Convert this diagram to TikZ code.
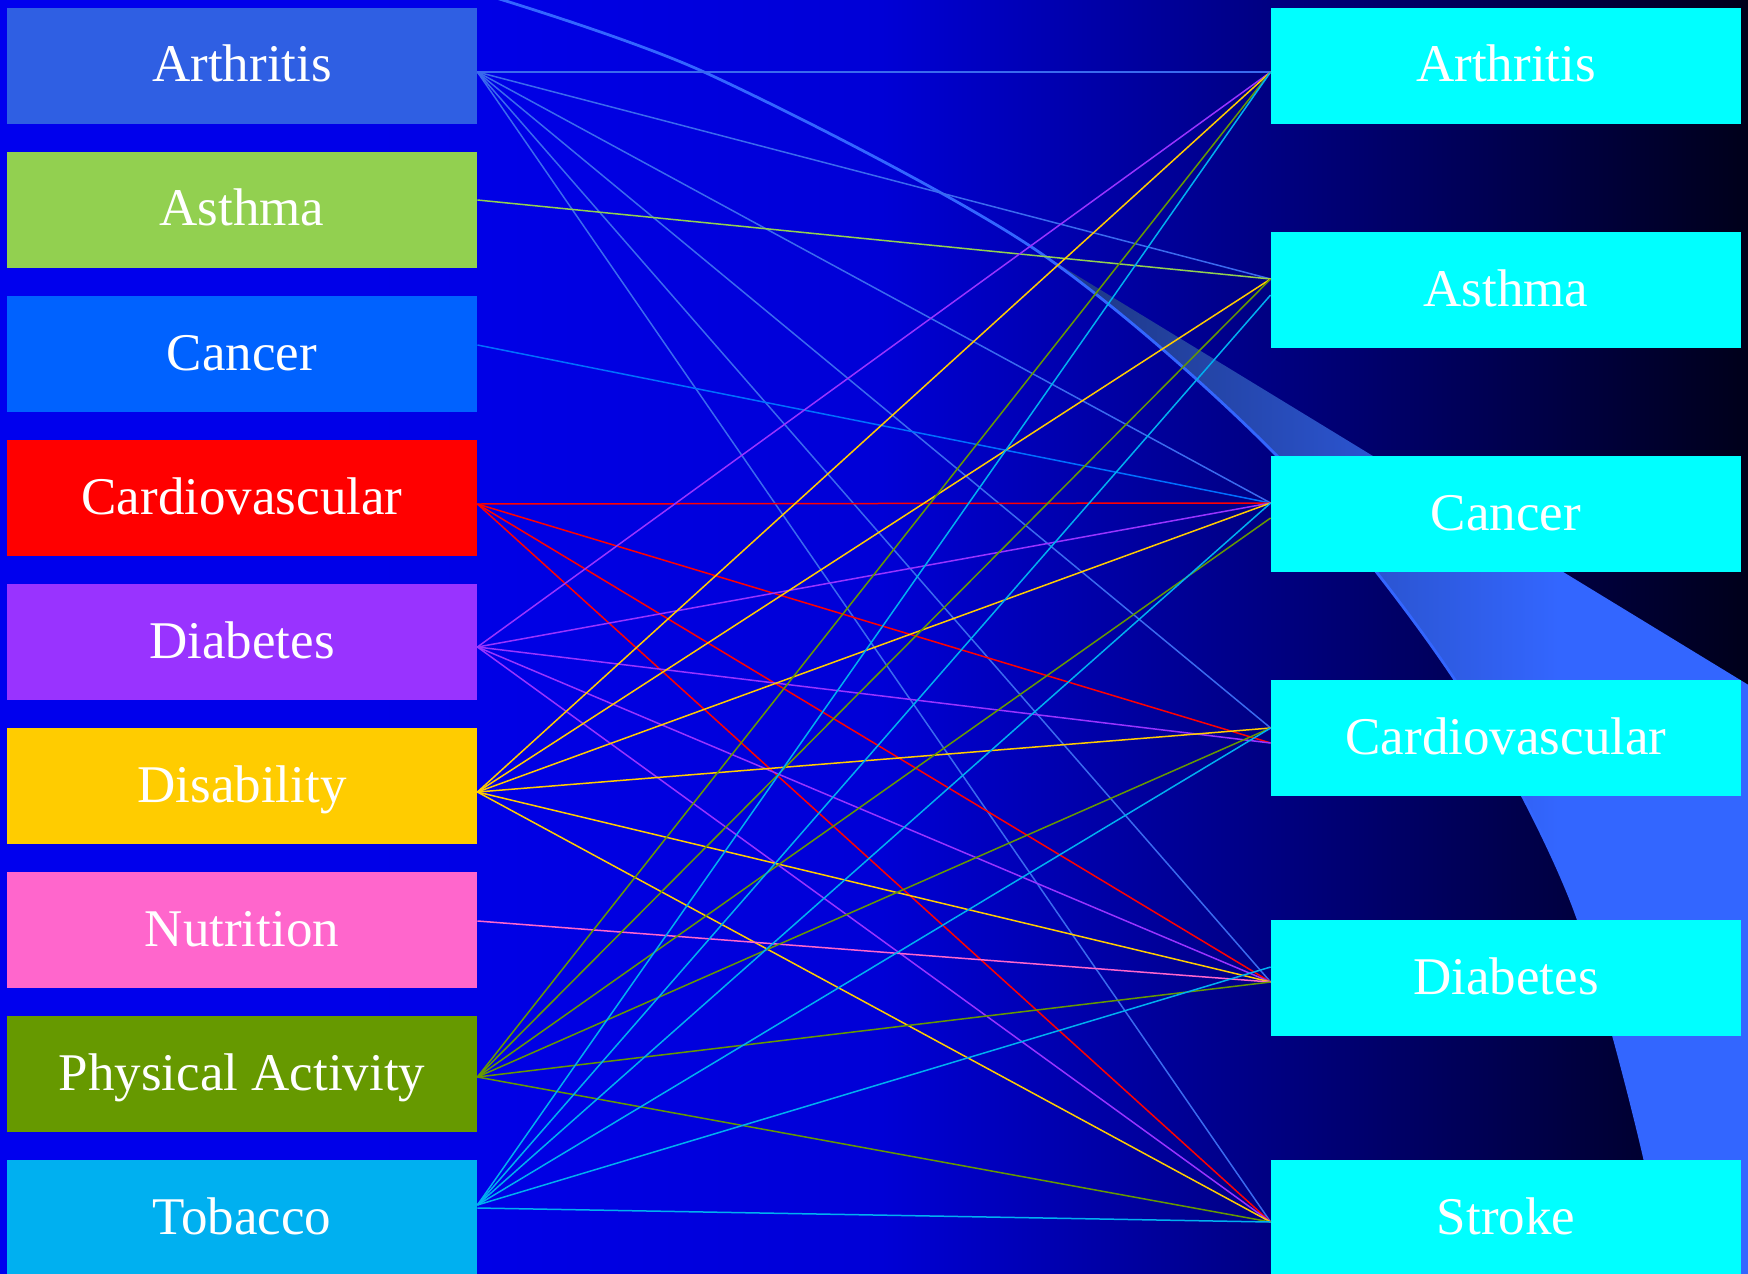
\documentclass[tikz,border=0pt]{standalone}
\usepackage{fontspec}
\setmainfont{Liberation Serif}
\usetikzlibrary{calc}
\definecolor{bg0}{RGB}{0,0,238}
\definecolor{bg1}{RGB}{0,0,230}
\definecolor{bg2}{RGB}{0,0,214}
\definecolor{bg3}{RGB}{0,0,26}
\definecolor{swA}{RGB}{31,58,140}
\definecolor{swB}{RGB}{51,102,255}
\definecolor{cArth}{HTML}{2F5FE3}
\definecolor{lArth}{HTML}{3A6AEE}
\definecolor{cAsth}{HTML}{92D050}
\definecolor{cCanc}{HTML}{0062FF}
\definecolor{lCanc}{HTML}{0070FF}
\definecolor{cCard}{HTML}{FF0000}
\definecolor{cDiab}{HTML}{9933FF}
\definecolor{cDisa}{HTML}{FFCC00}
\definecolor{cNutr}{HTML}{FF66CC}
\definecolor{cPhys}{HTML}{669900}
\definecolor{cToba}{HTML}{00B0F0}
\definecolor{cRight}{HTML}{00FFFF}
\pgfdeclarehorizontalshading{backdrop}{100bp}{color(0bp)=(bg0); color(25bp)=(bg0); color(38.7bp)=(bg1); color(50.2bp)=(bg2); color(75bp)=(bg3); color(100bp)=(bg3)}
\pgfdeclarehorizontalshading{swoosh}{100bp}{color(0bp)=(swA); color(49.4bp)=(swA); color(67.2bp)=(swB); color(100bp)=(swB)}
\begin{document}
\begin{tikzpicture}[x=0.5pt,y=-0.5pt,
  box/.style={minimum width=235pt, minimum height=58pt, inner sep=0pt, text=white,
              text height=18pt, text depth=2pt,
              font=\fontsize{26.5}{30}\selectfont},
  rbox/.style={box, fill=cRight},
  link/.style={line width=0.75pt},
  swline/.style={draw=swB, line width=1.4pt}]
\useasboundingbox (0,0) rectangle (1748,1273);
\clip (0,0) rectangle (1748,1273);
% background
\shade[shading=backdrop] (0,0) rectangle (1748,1273);
% swoosh band
\def\swcurve{(470,-10) (704,72) (1033,248) (1278,457) (1455,680) (1571,900) (1645,1160) (1660,1290)}
\begin{scope}
  \clip (1040,253) -- (1760,692) -- (1760,1290) -- (1040,1290) -- cycle;
  \shade[shading=swoosh] plot[smooth] coordinates {\swcurve} -- (1760,1290) -- (1760,-10) -- cycle;
\end{scope}
\draw[swline] plot[smooth] coordinates {\swcurve};
% left boxes
\node[box, fill=cArth] (LArth) at (242,66)   {Arthritis};
\node[box, fill=cAsth] (LAsth) at (242,210)  {Asthma};
\node[box, fill=cCanc] (LCanc) at (242,354)  {Cancer};
\node[box, fill=cCard] (LCard) at (242,498)  {Cardiovascular};
\node[box, fill=cDiab] (LDiab) at (242,642)  {Diabetes};
\node[box, fill=cDisa] (LDisa) at (242,786)  {Disability};
\node[box, fill=cNutr] (LNutr) at (242,930)  {Nutrition};
\node[box, fill=cPhys] (LPhys) at (242,1074) {Physical Activity};
\node[box, fill=cToba] (LToba) at (242,1218) {Tobacco};
% right boxes
\node[rbox] (RArth) at (1506,66)   {Arthritis};
\node[rbox] (RAsth) at (1506,290)  {Asthma};
\node[rbox] (RCanc) at (1506,514)  {Cancer};
\node[rbox] (RCard) at (1506,738)  {Cardiovascular};
\node[rbox] (RDiab) at (1506,978)  {Diabetes};
\node[rbox] (RStro) at (1506,1218) {Stroke};
% ports
\coordinate (pLArth) at ($(LArth.east)+(0,6)$);
\coordinate (pLAsth) at ($(LAsth.east)+(0,-10)$);
\coordinate (pLCanc) at ($(LCanc.east)+(0,-9)$);
\coordinate (pLCard) at ($(LCard.east)+(0,6)$);
\coordinate (pLDiab) at ($(LDiab.east)+(0,5)$);
\coordinate (pLDisa) at ($(LDisa.east)+(0,6)$);
\coordinate (pLNutr) at ($(LNutr.east)+(0,-9)$);
\coordinate (pLPhys) at ($(LPhys.east)+(0,3)$);
\coordinate (pLToba) at ($(LToba.east)+(0,-13)$);
\coordinate (pLToba2) at ($(LToba.east)+(0,-10)$);
\coordinate (pRArth) at ($(RArth.west)+(0,6)$);
\coordinate (pRAsth) at ($(RAsth.west)+(0,-11)$);
\coordinate (pRAsth2) at ($(RAsth.west)+(0,5)$);
\coordinate (pRCanc) at ($(RCanc.west)+(0,-11)$);
\coordinate (pRCanc2) at ($(RCanc.west)+(0,4)$);
\coordinate (pRCard) at ($(RCard.west)+(0,-10)$);
\coordinate (pRCard2) at ($(RCard.west)+(0,5)$);
\coordinate (pRDiab) at ($(RDiab.west)+(0,4)$);
\coordinate (pRDiab2) at ($(RDiab.west)+(0,-11)$);
\coordinate (pRStro) at ($(RStro.west)+(0,4)$);
% links
\foreach \t in {pRArth,pRAsth,pRCanc,pRCard,pRDiab,pRStro}
  \draw[link, lArth] (pLArth) -- (\t);
\draw[link, cAsth] (pLAsth) -- (pRAsth);
\draw[link, lCanc] (pLCanc) -- (pRCanc);
\foreach \t in {pRCanc,pRCard2,pRDiab,pRStro}
  \draw[link, cCard] (pLCard) -- (\t);
\foreach \t in {pRArth,pRCanc,pRCard2,pRDiab,pRStro}
  \draw[link, cDiab] (pLDiab) -- (\t);
\foreach \t in {pRArth,pRAsth,pRCanc,pRCard,pRDiab,pRStro}
  \draw[link, cDisa] (pLDisa) -- (\t);
\draw[link, cNutr] (pLNutr) -- (pRDiab);
\foreach \t in {pRArth,pRAsth,pRCanc2,pRCard,pRDiab,pRStro}
  \draw[link, cPhys] (pLPhys) -- (\t);
\foreach \t in {pRArth,pRAsth2,pRCanc,pRCard,pRDiab2}
  \draw[link, cToba] (pLToba) -- (\t);
\draw[link, cToba] (pLToba2) -- (pRStro);
\end{tikzpicture}
\end{document}
